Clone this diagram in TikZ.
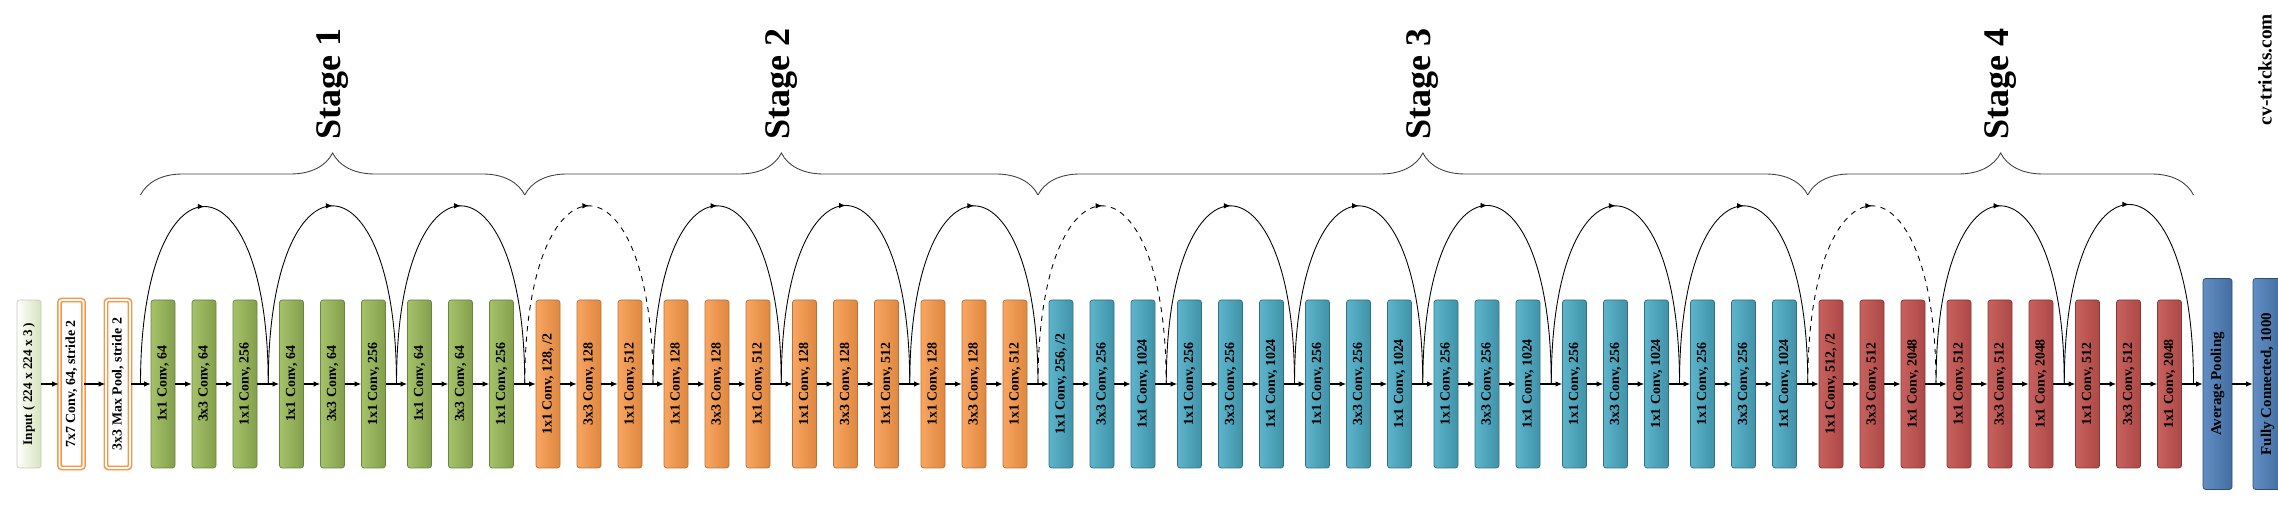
\documentclass[tikz,border=0pt]{standalone}
\usepackage{fontspec}
\setmainfont{Liberation Serif}
\usepackage{tikz}
\usetikzlibrary{arrows.meta, calc, decorations.pathreplacing, decorations.markings}

\definecolor{greenfill}{HTML}{9BBB59}
\definecolor{orangefill}{HTML}{F79646}
\definecolor{tealfill}{HTML}{4BACC6}
\definecolor{redfill}{HTML}{C0504D}
\definecolor{bluefill}{HTML}{4F81BD}

\begin{document}
\begin{tikzpicture}[
        font=\fontsize{7.9}{9}\selectfont\bfseries,
        layer node/.style={rotate=90, rounded corners=1.5pt, line width=0.4pt, minimum width=3.36cm, minimum height=0.48cm, inner sep=0pt, align=center},
        input node/.style={layer node, draw=greenfill!35!gray!50, left color=white, middle color=greenfill!12!white, right color=greenfill!40!white, font=\fontsize{7.5}{9}\selectfont\bfseries},
        pre node/.style={layer node, draw=orangefill, line width=0.9pt, double=white, double distance=1pt, fill=white},
        stage1 node/.style={layer node, draw=greenfill!70!black, left color=greenfill!90!white, middle color=greenfill!70!white, right color=greenfill!85!black},
        stage2 node/.style={layer node, draw=orangefill!75!black, left color=orangefill!85!white, middle color=orangefill!65!white, right color=orangefill!90!black},
        stage3 node/.style={layer node, draw=tealfill!65!black, left color=tealfill!90!white, middle color=tealfill!65!white, right color=tealfill!85!black},
        stage4 node/.style={layer node, draw=redfill!70!black, left color=redfill!90!white, middle color=redfill!70!white, right color=redfill!90!black},
        head node/.style={layer node, minimum width=4.22cm, minimum height=0.58cm, draw=bluefill!60!black, left color=bluefill!90!white, middle color=bluefill!70!white, right color=bluefill!85!black, font=\fontsize{8.5}{10}\selectfont\bfseries},
        flow arrow/.style={->, >={Latex[length=1.3mm, width=1.1mm]}, semithick},
        skip arrow/.style={line width=0.5pt, out=90, in=90, looseness=4.75, decoration={markings, mark=at position 0.5 with {\arrow{Latex[length=1.3mm, width=1.1mm]}}}, postaction={decorate}},
        stage brace/.style={decorate, decoration={brace, amplitude=0.84cm}, line width=0.5pt, black!75},
        stage label/.style={rotate=90, anchor=west, inner sep=0pt, font=\fontsize{20.5}{24}\selectfont\bfseries}
    ]

    \useasboundingbox (0,0) rectangle (45.56,10.28);

    % Input and stem
    \node[input node] (input) at (0.58, 2.60) {Input ( 224 x 224 x 3 )};
    \node[pre node] (conv7) at (1.43, 2.60) {7x7 Conv, 64, stride 2};
    \node[pre node] (pool) at (2.36, 2.60) {3x3 Max Pool, stride 2};

    % Stage 1
    \node[stage1 node] (g1) at (3.26, 2.60) {1x1 Conv, 64};
    \node[stage1 node] (g2) at (4.08, 2.60) {3x3 Conv, 64};
    \node[stage1 node] (g3) at (4.90, 2.60) {1x1 Conv, 256};
    \node[stage1 node] (g4) at (5.83, 2.60) {1x1 Conv, 64};
    \node[stage1 node] (g5) at (6.65, 2.60) {3x3 Conv, 64};
    \node[stage1 node] (g6) at (7.47, 2.60) {1x1 Conv, 256};
    \node[stage1 node] (g7) at (8.39, 2.60) {1x1 Conv, 64};
    \node[stage1 node] (g8) at (9.21, 2.60) {3x3 Conv, 64};
    \node[stage1 node] (g9) at (10.03, 2.60) {1x1 Conv, 256};

    % Stage 2
    \node[stage2 node] (o1) at (10.96, 2.60) {1x1 Conv, 128, /2};
    \node[stage2 node] (o2) at (11.78, 2.60) {3x3 Conv, 128};
    \node[stage2 node] (o3) at (12.60, 2.60) {1x1 Conv, 512};
    \node[stage2 node] (o4) at (13.52, 2.60) {1x1 Conv, 128};
    \node[stage2 node] (o5) at (14.34, 2.60) {3x3 Conv, 128};
    \node[stage2 node] (o6) at (15.16, 2.60) {1x1 Conv, 512};
    \node[stage2 node] (o7) at (16.09, 2.60) {1x1 Conv, 128};
    \node[stage2 node] (o8) at (16.91, 2.60) {3x3 Conv, 128};
    \node[stage2 node] (o9) at (17.73, 2.60) {1x1 Conv, 512};
    \node[stage2 node] (o10) at (18.66, 2.60) {1x1 Conv, 128};
    \node[stage2 node] (o11) at (19.48, 2.60) {3x3 Conv, 128};
    \node[stage2 node] (o12) at (20.30, 2.60) {1x1 Conv, 512};

    % Stage 3
    \node[stage3 node] (t1) at (21.22, 2.60) {1x1 Conv, 256, /2};
    \node[stage3 node] (t2) at (22.04, 2.60) {3x3 Conv, 256};
    \node[stage3 node] (t3) at (22.86, 2.60) {1x1 Conv, 1024};
    \node[stage3 node] (t4) at (23.79, 2.60) {1x1 Conv, 256};
    \node[stage3 node] (t5) at (24.61, 2.60) {3x3 Conv, 256};
    \node[stage3 node] (t6) at (25.43, 2.60) {1x1 Conv, 1024};
    \node[stage3 node] (t7) at (26.35, 2.60) {1x1 Conv, 256};
    \node[stage3 node] (t8) at (27.17, 2.60) {3x3 Conv, 256};
    \node[stage3 node] (t9) at (27.99, 2.60) {1x1 Conv, 1024};
    \node[stage3 node] (t10) at (28.92, 2.60) {1x1 Conv, 256};
    \node[stage3 node] (t11) at (29.74, 2.60) {3x3 Conv, 256};
    \node[stage3 node] (t12) at (30.56, 2.60) {1x1 Conv, 1024};
    \node[stage3 node] (t13) at (31.49, 2.60) {1x1 Conv, 256};
    \node[stage3 node] (t14) at (32.31, 2.60) {3x3 Conv, 256};
    \node[stage3 node] (t15) at (33.13, 2.60) {1x1 Conv, 1024};
    \node[stage3 node] (t16) at (34.05, 2.60) {1x1 Conv, 256};
    \node[stage3 node] (t17) at (34.87, 2.60) {3x3 Conv, 256};
    \node[stage3 node] (t18) at (35.69, 2.60) {1x1 Conv, 1024};

    % Stage 4
    \node[stage4 node] (r1) at (36.62, 2.60) {1x1 Conv, 512, /2};
    \node[stage4 node] (r2) at (37.44, 2.60) {3x3 Conv, 512};
    \node[stage4 node] (r3) at (38.26, 2.60) {1x1 Conv, 2048};
    \node[stage4 node] (r4) at (39.18, 2.60) {1x1 Conv, 512};
    \node[stage4 node] (r5) at (40.00, 2.60) {3x3 Conv, 512};
    \node[stage4 node] (r6) at (40.82, 2.60) {1x1 Conv, 2048};
    \node[stage4 node] (r7) at (41.75, 2.60) {1x1 Conv, 512};
    \node[stage4 node] (r8) at (42.57, 2.60) {3x3 Conv, 512};
    \node[stage4 node] (r9) at (43.39, 2.60) {1x1 Conv, 2048};

    % Head
    \node[head node] (avgpool) at (44.35, 2.60) {Average Pooling};
    \node[head node] (fc) at (45.35, 2.60) {Fully Connected, 1000};

    \node[rotate=90, font=\fontsize{11}{13}\selectfont\bfseries] (site) at (45.30, 8.89) {cv-tricks.com};

    % Main flow
    \draw[flow arrow] (input) -- (conv7); \draw[flow arrow] (conv7) -- (pool); \draw[flow arrow] (pool) -- (g1);
    \draw[flow arrow] (g1) -- (g2); \draw[flow arrow] (g2) -- (g3); \draw[flow arrow] (g3) -- (g4);
    \draw[flow arrow] (g4) -- (g5); \draw[flow arrow] (g5) -- (g6); \draw[flow arrow] (g6) -- (g7);
    \draw[flow arrow] (g7) -- (g8); \draw[flow arrow] (g8) -- (g9); \draw[flow arrow] (g9) -- (o1);
    \draw[flow arrow] (o1) -- (o2); \draw[flow arrow] (o2) -- (o3); \draw[flow arrow] (o3) -- (o4);
    \draw[flow arrow] (o4) -- (o5); \draw[flow arrow] (o5) -- (o6); \draw[flow arrow] (o6) -- (o7);
    \draw[flow arrow] (o7) -- (o8); \draw[flow arrow] (o8) -- (o9); \draw[flow arrow] (o9) -- (o10);
    \draw[flow arrow] (o10) -- (o11); \draw[flow arrow] (o11) -- (o12); \draw[flow arrow] (o12) -- (t1);
    \draw[flow arrow] (t1) -- (t2); \draw[flow arrow] (t2) -- (t3); \draw[flow arrow] (t3) -- (t4);
    \draw[flow arrow] (t4) -- (t5); \draw[flow arrow] (t5) -- (t6); \draw[flow arrow] (t6) -- (t7);
    \draw[flow arrow] (t7) -- (t8); \draw[flow arrow] (t8) -- (t9); \draw[flow arrow] (t9) -- (t10);
    \draw[flow arrow] (t10) -- (t11); \draw[flow arrow] (t11) -- (t12); \draw[flow arrow] (t12) -- (t13);
    \draw[flow arrow] (t13) -- (t14); \draw[flow arrow] (t14) -- (t15); \draw[flow arrow] (t15) -- (t16);
    \draw[flow arrow] (t16) -- (t17); \draw[flow arrow] (t17) -- (t18); \draw[flow arrow] (t18) -- (r1);
    \draw[flow arrow] (r1) -- (r2); \draw[flow arrow] (r2) -- (r3); \draw[flow arrow] (r3) -- (r4);
    \draw[flow arrow] (r4) -- (r5); \draw[flow arrow] (r5) -- (r6); \draw[flow arrow] (r6) -- (r7);
    \draw[flow arrow] (r7) -- (r8); \draw[flow arrow] (r8) -- (r9); \draw[flow arrow] (r9) -- (avgpool);
    \draw[flow arrow] (avgpool) -- (fc);

    % Junctions between blocks
    \coordinate (j0) at ($(pool)!0.5!(g1)$);
    \coordinate (j1) at ($(g3)!0.5!(g4)$);
    \coordinate (j2) at ($(g6)!0.5!(g7)$);
    \coordinate (j3) at ($(g9)!0.5!(o1)$);
    \coordinate (j4) at ($(o3)!0.5!(o4)$);
    \coordinate (j5) at ($(o6)!0.5!(o7)$);
    \coordinate (j6) at ($(o9)!0.5!(o10)$);
    \coordinate (j7) at ($(o12)!0.5!(t1)$);
    \coordinate (j8) at ($(t3)!0.5!(t4)$);
    \coordinate (j9) at ($(t6)!0.5!(t7)$);
    \coordinate (j10) at ($(t9)!0.5!(t10)$);
    \coordinate (j11) at ($(t12)!0.5!(t13)$);
    \coordinate (j12) at ($(t15)!0.5!(t16)$);
    \coordinate (j13) at ($(t18)!0.5!(r1)$);
    \coordinate (j14) at ($(r3)!0.5!(r4)$);
    \coordinate (j15) at ($(r6)!0.5!(r7)$);
    \coordinate (j16) at ($(r9)!0.5!(avgpool)$);

    % Shortcuts (dashed = projection)
    \draw[skip arrow] (j0) to (j1);
    \draw[skip arrow] (j1) to (j2);
    \draw[skip arrow] (j2) to (j3);
    \draw[skip arrow, dashed] (j3) to (j4);
    \draw[skip arrow] (j4) to (j5);
    \draw[skip arrow] (j5) to (j6);
    \draw[skip arrow] (j6) to (j7);
    \draw[skip arrow, dashed] (j7) to (j8);
    \draw[skip arrow] (j8) to (j9);
    \draw[skip arrow] (j9) to (j10);
    \draw[skip arrow] (j10) to (j11);
    \draw[skip arrow] (j11) to (j12);
    \draw[skip arrow] (j12) to (j13);
    \draw[skip arrow, dashed] (j13) to (j14);
    \draw[skip arrow] (j14) to (j15);
    \draw[skip arrow] (j15) to (j16);

    % Stage braces
    \draw[stage brace] ([yshift=3.78cm]j0) -- ([yshift=3.78cm]j3);
    \draw[stage brace] ([yshift=3.78cm]j3) -- ([yshift=3.78cm]j7);
    \draw[stage brace] ([yshift=3.78cm]j7) -- ([yshift=3.78cm]j13);
    \draw[stage brace] ([yshift=3.78cm]j13) -- ([yshift=3.78cm]j16);

    \node[stage label] (stage1) at ($(j0)!0.5!(j3)+(0,4.88)$) {Stage 1};
    \node[stage label] (stage2) at ($(j3)!0.5!(j7)+(0,4.88)$) {Stage 2};
    \node[stage label] (stage3) at ($(j7)!0.5!(j13)+(0,4.88)$) {Stage 3};
    \node[stage label] (stage4) at ($(j13)!0.5!(j16)+(0,4.88)$) {Stage 4};

\end{tikzpicture}
\end{document}
